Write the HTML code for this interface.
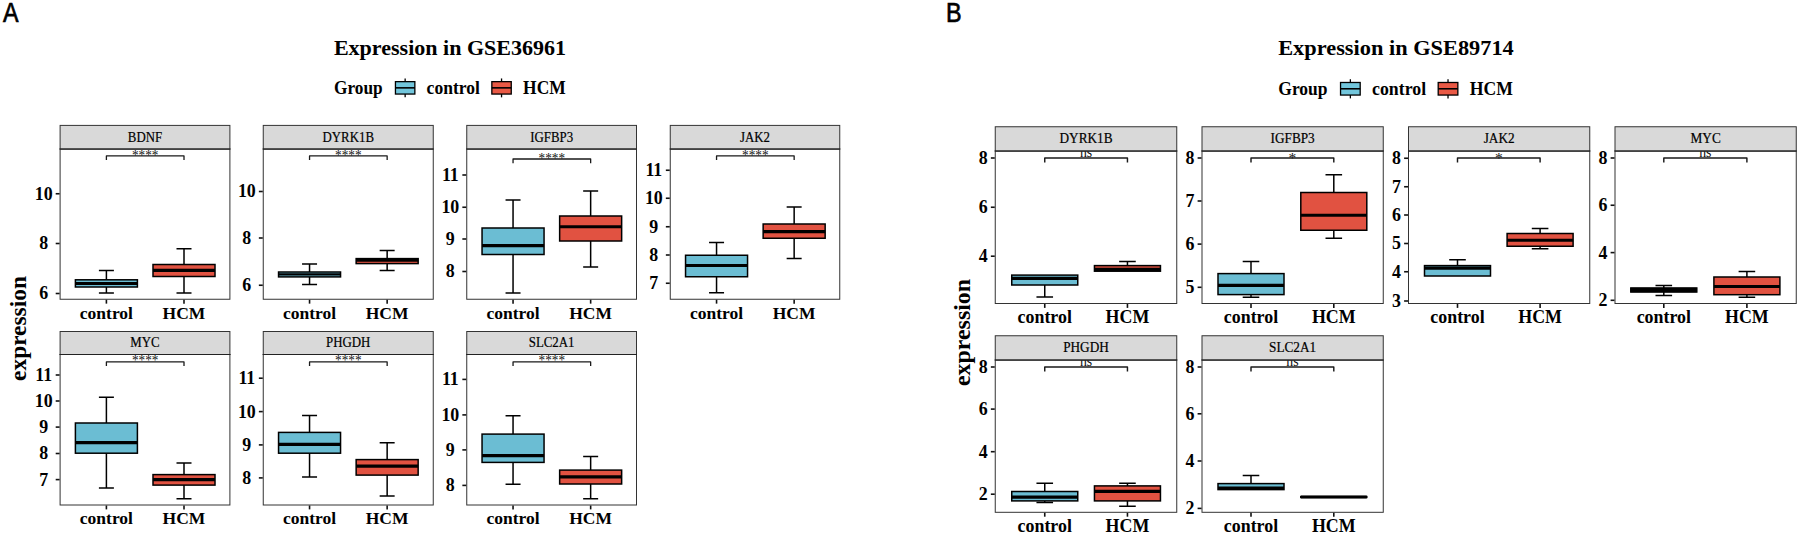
<!DOCTYPE html>
<html lang="en"><head><meta charset="utf-8"><title>Expression in GSE36961 and GSE89714</title>
<style>html,body{margin:0;padding:0;background:#fff}svg{display:block}</style></head><body>
<svg width="1800" height="537" viewBox="0 0 1800 537">
<rect width="1800" height="537" fill="#fff"/>
<text transform="translate(3.1 21.6) scale(0.825 1)" font-family='"Liberation Sans", sans-serif' font-size="28.2" fill="#000" stroke="#000" stroke-width="0.7">A</text>
<text transform="translate(946.1 21.6) scale(0.83 1)" font-family='"Liberation Sans", sans-serif' font-size="28.2" fill="#000" stroke="#000" stroke-width="0.7">B</text>
<text x="333.9" y="54.9" font-family='"Liberation Serif", serif' font-weight="bold" font-size="21.4" fill="#000" textLength="232.2" lengthAdjust="spacingAndGlyphs">Expression in GSE36961</text>
<text x="334" y="94" font-family='"Liberation Serif", serif' font-weight="bold" font-size="18.3" fill="#000" textLength="48.6" lengthAdjust="spacingAndGlyphs">Group</text>
<path d="M405.15 78.45V97.35" stroke="#000" stroke-width="1.3"/>
<rect x="395.45" y="81.65" width="19.4" height="12.4" fill="#72C6DC" stroke="#000" stroke-width="1.3"/>
<path d="M395.45 87.85H414.85" stroke="#000" stroke-width="1.6"/>
<text x="426.6" y="94" font-family='"Liberation Serif", serif' font-weight="bold" font-size="18.3" fill="#000" textLength="53.3" lengthAdjust="spacingAndGlyphs">control</text>
<path d="M501.55 78.45V97.35" stroke="#000" stroke-width="1.3"/>
<rect x="491.85" y="81.65" width="19.4" height="12.4" fill="#E95945" stroke="#000" stroke-width="1.3"/>
<path d="M491.85 87.85H511.25" stroke="#000" stroke-width="1.6"/>
<text x="523.1" y="94" font-family='"Liberation Serif", serif' font-weight="bold" font-size="18.3" fill="#000" textLength="42.6" lengthAdjust="spacingAndGlyphs">HCM</text>
<text x="1278.2" y="54.9" font-family='"Liberation Serif", serif' font-weight="bold" font-size="21.68" fill="#000" textLength="235.6" lengthAdjust="spacingAndGlyphs">Expression in GSE89714</text>
<text x="1278.3" y="95" font-family='"Liberation Serif", serif' font-weight="bold" font-size="18.54" fill="#000" textLength="49.23" lengthAdjust="spacingAndGlyphs">Group</text>
<path d="M1350.37 79.25V98.39" stroke="#000" stroke-width="1.3"/>
<rect x="1340.54" y="82.49" width="19.65" height="12.56" fill="#72C6DC" stroke="#000" stroke-width="1.3"/>
<path d="M1340.54 88.77H1360.2" stroke="#000" stroke-width="1.6"/>
<text x="1372.1" y="95" font-family='"Liberation Serif", serif' font-weight="bold" font-size="18.54" fill="#000" textLength="53.99" lengthAdjust="spacingAndGlyphs">control</text>
<path d="M1448.02 79.25V98.39" stroke="#000" stroke-width="1.3"/>
<rect x="1438.2" y="82.49" width="19.65" height="12.56" fill="#E95945" stroke="#000" stroke-width="1.3"/>
<path d="M1438.2 88.77H1457.85" stroke="#000" stroke-width="1.6"/>
<text x="1469.85" y="95" font-family='"Liberation Serif", serif' font-weight="bold" font-size="18.54" fill="#000" textLength="43.15" lengthAdjust="spacingAndGlyphs">HCM</text>
<text transform="translate(26.4 328.5) rotate(-90)" text-anchor="middle" font-family='"Liberation Serif", serif' font-weight="bold" font-size="23.4" fill="#000">expression</text>
<text transform="translate(970.2 332.5) rotate(-90)" text-anchor="middle" font-family='"Liberation Serif", serif' font-weight="bold" font-size="23.9" fill="#000">expression</text>
<rect x="60.1" y="149" width="169.8" height="150.25" fill="#fff" stroke="#333333" stroke-width="1"/>
<path d="M106.4 279.8V270.4M98.9 270.4H113.9" stroke="#000" stroke-width="1.5" fill="none"/>
<path d="M106.4 287V292.9M98.9 292.9H113.9" stroke="#000" stroke-width="1.5" fill="none"/>
<rect x="75.4" y="279.8" width="62" height="7.2" fill="#6BBDD3" stroke="#000" stroke-width="1.5"/>
<path d="M75.4 283.5H137.4" stroke="#000" stroke-width="3.2"/>
<path d="M184 264.5V248.8M176.5 248.8H191.5" stroke="#000" stroke-width="1.5" fill="none"/>
<path d="M184 276.5V292.9M176.5 292.9H191.5" stroke="#000" stroke-width="1.5" fill="none"/>
<rect x="153" y="264.5" width="62" height="12" fill="#E15241" stroke="#000" stroke-width="1.5"/>
<path d="M153 270.4H215" stroke="#000" stroke-width="3.2"/>
<path d="M106.4 160.1V155.9H184V160.1" stroke="#1a1a1a" stroke-width="1.3" stroke-linejoin="round" fill="none"/>
<text x="145.2" y="160.3" text-anchor="middle" font-family='"Liberation Serif", serif' font-size="15" fill="#111" textLength="26.5" lengthAdjust="spacingAndGlyphs">****</text>
<rect x="60.1" y="125.4" width="169.8" height="23.6" fill="#D9D9D9" stroke="#333333" stroke-width="1"/>
<path d="M59.6 149H230.4" stroke="#222" stroke-width="1.2"/>
<text transform="translate(145 141.55) scale(0.95 1)" text-anchor="middle" font-family='"Liberation Serif", serif' font-size="13.55" fill="#000" stroke="#000" stroke-width="0.2">BDNF</text>
<path d="M55.7 193.75H59.6" stroke="#111" stroke-width="1.6"/>
<text x="43.7" y="199.65" text-anchor="middle" font-family='"Liberation Serif", serif' font-weight="bold" font-size="17.9" fill="#000">10</text>
<path d="M55.7 243.5H59.6" stroke="#111" stroke-width="1.6"/>
<text x="43.7" y="249.4" text-anchor="middle" font-family='"Liberation Serif", serif' font-weight="bold" font-size="17.9" fill="#000">8</text>
<path d="M55.7 293.5H59.6" stroke="#111" stroke-width="1.6"/>
<text x="43.7" y="299.4" text-anchor="middle" font-family='"Liberation Serif", serif' font-weight="bold" font-size="17.9" fill="#000">6</text>
<path d="M106.4 299.75V303.65" stroke="#111" stroke-width="1.6"/>
<text x="106.4" y="318.55" text-anchor="middle" font-family='"Liberation Serif", serif' font-weight="bold" font-size="17.5" fill="#000">control</text>
<path d="M184 299.75V303.65" stroke="#111" stroke-width="1.6"/>
<text x="184" y="318.55" text-anchor="middle" font-family='"Liberation Serif", serif' font-weight="bold" font-size="17.5" fill="#000">HCM</text>
<rect x="263.25" y="149" width="170" height="150.25" fill="#fff" stroke="#333333" stroke-width="1"/>
<path d="M309.55 272V264M302.05 264H317.05" stroke="#000" stroke-width="1.5" fill="none"/>
<path d="M309.55 276.9V284.5M302.05 284.5H317.05" stroke="#000" stroke-width="1.5" fill="none"/>
<rect x="278.55" y="272" width="62" height="4.9" fill="#6BBDD3" stroke="#000" stroke-width="1.5"/>
<path d="M278.55 274.45H340.55" stroke="#000" stroke-width="2.2"/>
<path d="M387.15 258.6V250.5M379.65 250.5H394.65" stroke="#000" stroke-width="1.5" fill="none"/>
<path d="M387.15 263.6V270.5M379.65 270.5H394.65" stroke="#000" stroke-width="1.5" fill="none"/>
<rect x="356.15" y="258.6" width="62" height="5" fill="#E15241" stroke="#000" stroke-width="1.5"/>
<path d="M356.15 260.2H418.15" stroke="#000" stroke-width="3.2"/>
<path d="M309.55 160.1V155.9H387.15V160.1" stroke="#1a1a1a" stroke-width="1.3" stroke-linejoin="round" fill="none"/>
<text x="348.35" y="160.3" text-anchor="middle" font-family='"Liberation Serif", serif' font-size="15" fill="#111" textLength="26.5" lengthAdjust="spacingAndGlyphs">****</text>
<rect x="263.25" y="125.4" width="170" height="23.6" fill="#D9D9D9" stroke="#333333" stroke-width="1"/>
<path d="M262.75 149H433.75" stroke="#222" stroke-width="1.2"/>
<text transform="translate(348.25 141.55) scale(0.95 1)" text-anchor="middle" font-family='"Liberation Serif", serif' font-size="13.55" fill="#000" stroke="#000" stroke-width="0.2">DYRK1B</text>
<path d="M258.85 191.5H262.75" stroke="#111" stroke-width="1.6"/>
<text x="246.85" y="197.4" text-anchor="middle" font-family='"Liberation Serif", serif' font-weight="bold" font-size="17.9" fill="#000">10</text>
<path d="M258.85 238H262.75" stroke="#111" stroke-width="1.6"/>
<text x="246.85" y="243.9" text-anchor="middle" font-family='"Liberation Serif", serif' font-weight="bold" font-size="17.9" fill="#000">8</text>
<path d="M258.85 285.25H262.75" stroke="#111" stroke-width="1.6"/>
<text x="246.85" y="291.15" text-anchor="middle" font-family='"Liberation Serif", serif' font-weight="bold" font-size="17.9" fill="#000">6</text>
<path d="M309.55 299.75V303.65" stroke="#111" stroke-width="1.6"/>
<text x="309.55" y="318.55" text-anchor="middle" font-family='"Liberation Serif", serif' font-weight="bold" font-size="17.5" fill="#000">control</text>
<path d="M387.15 299.75V303.65" stroke="#111" stroke-width="1.6"/>
<text x="387.15" y="318.55" text-anchor="middle" font-family='"Liberation Serif", serif' font-weight="bold" font-size="17.5" fill="#000">HCM</text>
<rect x="466.75" y="149" width="169.75" height="150.25" fill="#fff" stroke="#333333" stroke-width="1"/>
<path d="M513.05 228V200M505.55 200H520.55" stroke="#000" stroke-width="1.5" fill="none"/>
<path d="M513.05 254.5V292.9M505.55 292.9H520.55" stroke="#000" stroke-width="1.5" fill="none"/>
<rect x="482.05" y="228" width="62" height="26.5" fill="#6BBDD3" stroke="#000" stroke-width="1.5"/>
<path d="M482.05 245.7H544.05" stroke="#000" stroke-width="3.2"/>
<path d="M590.65 216V191M583.15 191H598.15" stroke="#000" stroke-width="1.5" fill="none"/>
<path d="M590.65 241V267M583.15 267H598.15" stroke="#000" stroke-width="1.5" fill="none"/>
<rect x="559.65" y="216" width="62" height="25" fill="#E15241" stroke="#000" stroke-width="1.5"/>
<path d="M559.65 226.75H621.65" stroke="#000" stroke-width="3.2"/>
<path d="M513.05 163.2V159H590.65V163.2" stroke="#1a1a1a" stroke-width="1.3" stroke-linejoin="round" fill="none"/>
<text x="551.85" y="163.4" text-anchor="middle" font-family='"Liberation Serif", serif' font-size="15" fill="#111" textLength="26.5" lengthAdjust="spacingAndGlyphs">****</text>
<rect x="466.75" y="125.4" width="169.75" height="23.6" fill="#D9D9D9" stroke="#333333" stroke-width="1"/>
<path d="M466.25 149H637" stroke="#222" stroke-width="1.2"/>
<text transform="translate(551.62 141.55) scale(0.95 1)" text-anchor="middle" font-family='"Liberation Serif", serif' font-size="13.55" fill="#000" stroke="#000" stroke-width="0.2">IGFBP3</text>
<path d="M462.35 175H466.25" stroke="#111" stroke-width="1.6"/>
<text x="450.35" y="180.9" text-anchor="middle" font-family='"Liberation Serif", serif' font-weight="bold" font-size="17.9" fill="#000">11</text>
<path d="M462.35 207.25H466.25" stroke="#111" stroke-width="1.6"/>
<text x="450.35" y="213.15" text-anchor="middle" font-family='"Liberation Serif", serif' font-weight="bold" font-size="17.9" fill="#000">10</text>
<path d="M462.35 239H466.25" stroke="#111" stroke-width="1.6"/>
<text x="450.35" y="244.9" text-anchor="middle" font-family='"Liberation Serif", serif' font-weight="bold" font-size="17.9" fill="#000">9</text>
<path d="M462.35 271.5H466.25" stroke="#111" stroke-width="1.6"/>
<text x="450.35" y="277.4" text-anchor="middle" font-family='"Liberation Serif", serif' font-weight="bold" font-size="17.9" fill="#000">8</text>
<path d="M513.05 299.75V303.65" stroke="#111" stroke-width="1.6"/>
<text x="513.05" y="318.55" text-anchor="middle" font-family='"Liberation Serif", serif' font-weight="bold" font-size="17.5" fill="#000">control</text>
<path d="M590.65 299.75V303.65" stroke="#111" stroke-width="1.6"/>
<text x="590.65" y="318.55" text-anchor="middle" font-family='"Liberation Serif", serif' font-weight="bold" font-size="17.5" fill="#000">HCM</text>
<rect x="670.25" y="149" width="169.5" height="150.25" fill="#fff" stroke="#333333" stroke-width="1"/>
<path d="M716.55 255.25V242.5M709.05 242.5H724.05" stroke="#000" stroke-width="1.5" fill="none"/>
<path d="M716.55 276.75V292.75M709.05 292.75H724.05" stroke="#000" stroke-width="1.5" fill="none"/>
<rect x="685.55" y="255.25" width="62" height="21.5" fill="#6BBDD3" stroke="#000" stroke-width="1.5"/>
<path d="M685.55 265.5H747.55" stroke="#000" stroke-width="3.2"/>
<path d="M794.15 224V207M786.65 207H801.65" stroke="#000" stroke-width="1.5" fill="none"/>
<path d="M794.15 238.25V258.5M786.65 258.5H801.65" stroke="#000" stroke-width="1.5" fill="none"/>
<rect x="763.15" y="224" width="62" height="14.25" fill="#E15241" stroke="#000" stroke-width="1.5"/>
<path d="M763.15 231.7H825.15" stroke="#000" stroke-width="3.2"/>
<path d="M716.55 160.1V155.9H794.15V160.1" stroke="#1a1a1a" stroke-width="1.3" stroke-linejoin="round" fill="none"/>
<text x="755.35" y="160.3" text-anchor="middle" font-family='"Liberation Serif", serif' font-size="15" fill="#111" textLength="26.5" lengthAdjust="spacingAndGlyphs">****</text>
<rect x="670.25" y="125.4" width="169.5" height="23.6" fill="#D9D9D9" stroke="#333333" stroke-width="1"/>
<path d="M669.75 149H840.25" stroke="#222" stroke-width="1.2"/>
<text transform="translate(755 141.55) scale(0.95 1)" text-anchor="middle" font-family='"Liberation Serif", serif' font-size="13.55" fill="#000" stroke="#000" stroke-width="0.2">JAK2</text>
<path d="M665.85 170.25H669.75" stroke="#111" stroke-width="1.6"/>
<text x="653.85" y="176.15" text-anchor="middle" font-family='"Liberation Serif", serif' font-weight="bold" font-size="17.9" fill="#000">11</text>
<path d="M665.85 198.25H669.75" stroke="#111" stroke-width="1.6"/>
<text x="653.85" y="204.15" text-anchor="middle" font-family='"Liberation Serif", serif' font-weight="bold" font-size="17.9" fill="#000">10</text>
<path d="M665.85 226.75H669.75" stroke="#111" stroke-width="1.6"/>
<text x="653.85" y="232.65" text-anchor="middle" font-family='"Liberation Serif", serif' font-weight="bold" font-size="17.9" fill="#000">9</text>
<path d="M665.85 255H669.75" stroke="#111" stroke-width="1.6"/>
<text x="653.85" y="260.9" text-anchor="middle" font-family='"Liberation Serif", serif' font-weight="bold" font-size="17.9" fill="#000">8</text>
<path d="M665.85 283.25H669.75" stroke="#111" stroke-width="1.6"/>
<text x="653.85" y="289.15" text-anchor="middle" font-family='"Liberation Serif", serif' font-weight="bold" font-size="17.9" fill="#000">7</text>
<path d="M716.55 299.75V303.65" stroke="#111" stroke-width="1.6"/>
<text x="716.55" y="318.55" text-anchor="middle" font-family='"Liberation Serif", serif' font-weight="bold" font-size="17.5" fill="#000">control</text>
<path d="M794.15 299.75V303.65" stroke="#111" stroke-width="1.6"/>
<text x="794.15" y="318.55" text-anchor="middle" font-family='"Liberation Serif", serif' font-weight="bold" font-size="17.5" fill="#000">HCM</text>
<rect x="60.1" y="354.5" width="169.8" height="150.5" fill="#fff" stroke="#333333" stroke-width="1"/>
<path d="M106.4 423V397.2M98.9 397.2H113.9" stroke="#000" stroke-width="1.5" fill="none"/>
<path d="M106.4 453.2V487.9M98.9 487.9H113.9" stroke="#000" stroke-width="1.5" fill="none"/>
<rect x="75.4" y="423" width="62" height="30.2" fill="#6BBDD3" stroke="#000" stroke-width="1.5"/>
<path d="M75.4 442.7H137.4" stroke="#000" stroke-width="3.2"/>
<path d="M184 474.6V462.9M176.5 462.9H191.5" stroke="#000" stroke-width="1.5" fill="none"/>
<path d="M184 485.1V498.7M176.5 498.7H191.5" stroke="#000" stroke-width="1.5" fill="none"/>
<rect x="153" y="474.6" width="62" height="10.5" fill="#E15241" stroke="#000" stroke-width="1.5"/>
<path d="M153 479.6H215" stroke="#000" stroke-width="3.2"/>
<path d="M106.4 366.1V361.9H184V366.1" stroke="#1a1a1a" stroke-width="1.3" stroke-linejoin="round" fill="none"/>
<text x="145.2" y="365.3" text-anchor="middle" font-family='"Liberation Serif", serif' font-size="15" fill="#111" textLength="26.5" lengthAdjust="spacingAndGlyphs">****</text>
<rect x="60.1" y="331.5" width="169.8" height="23" fill="#D9D9D9" stroke="#333333" stroke-width="1"/>
<path d="M59.6 354.5H230.4" stroke="#222" stroke-width="1.2"/>
<text transform="translate(145 347.35) scale(0.95 1)" text-anchor="middle" font-family='"Liberation Serif", serif' font-size="13.55" fill="#000" stroke="#000" stroke-width="0.2">MYC</text>
<path d="M55.7 375H59.6" stroke="#111" stroke-width="1.6"/>
<text x="43.7" y="380.9" text-anchor="middle" font-family='"Liberation Serif", serif' font-weight="bold" font-size="17.9" fill="#000">11</text>
<path d="M55.7 401H59.6" stroke="#111" stroke-width="1.6"/>
<text x="43.7" y="406.9" text-anchor="middle" font-family='"Liberation Serif", serif' font-weight="bold" font-size="17.9" fill="#000">10</text>
<path d="M55.7 427.1H59.6" stroke="#111" stroke-width="1.6"/>
<text x="43.7" y="433" text-anchor="middle" font-family='"Liberation Serif", serif' font-weight="bold" font-size="17.9" fill="#000">9</text>
<path d="M55.7 453.5H59.6" stroke="#111" stroke-width="1.6"/>
<text x="43.7" y="459.4" text-anchor="middle" font-family='"Liberation Serif", serif' font-weight="bold" font-size="17.9" fill="#000">8</text>
<path d="M55.7 479.6H59.6" stroke="#111" stroke-width="1.6"/>
<text x="43.7" y="485.5" text-anchor="middle" font-family='"Liberation Serif", serif' font-weight="bold" font-size="17.9" fill="#000">7</text>
<path d="M106.4 505.5V509.4" stroke="#111" stroke-width="1.6"/>
<text x="106.4" y="524.3" text-anchor="middle" font-family='"Liberation Serif", serif' font-weight="bold" font-size="17.5" fill="#000">control</text>
<path d="M184 505.5V509.4" stroke="#111" stroke-width="1.6"/>
<text x="184" y="524.3" text-anchor="middle" font-family='"Liberation Serif", serif' font-weight="bold" font-size="17.5" fill="#000">HCM</text>
<rect x="263.25" y="354.5" width="170" height="150.5" fill="#fff" stroke="#333333" stroke-width="1"/>
<path d="M309.55 432.4V415.5M302.05 415.5H317.05" stroke="#000" stroke-width="1.5" fill="none"/>
<path d="M309.55 453.2V477.1M302.05 477.1H317.05" stroke="#000" stroke-width="1.5" fill="none"/>
<rect x="278.55" y="432.4" width="62" height="20.8" fill="#6BBDD3" stroke="#000" stroke-width="1.5"/>
<path d="M278.55 444.3H340.55" stroke="#000" stroke-width="3.2"/>
<path d="M387.15 459.6V442.7M379.65 442.7H394.65" stroke="#000" stroke-width="1.5" fill="none"/>
<path d="M387.15 475.1V495.9M379.65 495.9H394.65" stroke="#000" stroke-width="1.5" fill="none"/>
<rect x="356.15" y="459.6" width="62" height="15.5" fill="#E15241" stroke="#000" stroke-width="1.5"/>
<path d="M356.15 466.2H418.15" stroke="#000" stroke-width="3.2"/>
<path d="M309.55 366.1V361.9H387.15V366.1" stroke="#1a1a1a" stroke-width="1.3" stroke-linejoin="round" fill="none"/>
<text x="348.35" y="365.3" text-anchor="middle" font-family='"Liberation Serif", serif' font-size="15" fill="#111" textLength="26.5" lengthAdjust="spacingAndGlyphs">****</text>
<rect x="263.25" y="331.5" width="170" height="23" fill="#D9D9D9" stroke="#333333" stroke-width="1"/>
<path d="M262.75 354.5H433.75" stroke="#222" stroke-width="1.2"/>
<text transform="translate(348.25 347.35) scale(0.95 1)" text-anchor="middle" font-family='"Liberation Serif", serif' font-size="13.55" fill="#000" stroke="#000" stroke-width="0.2">PHGDH</text>
<path d="M258.85 378.2H262.75" stroke="#111" stroke-width="1.6"/>
<text x="246.85" y="384.1" text-anchor="middle" font-family='"Liberation Serif", serif' font-weight="bold" font-size="17.9" fill="#000">11</text>
<path d="M258.85 411.6H262.75" stroke="#111" stroke-width="1.6"/>
<text x="246.85" y="417.5" text-anchor="middle" font-family='"Liberation Serif", serif' font-weight="bold" font-size="17.9" fill="#000">10</text>
<path d="M258.85 444.9H262.75" stroke="#111" stroke-width="1.6"/>
<text x="246.85" y="450.8" text-anchor="middle" font-family='"Liberation Serif", serif' font-weight="bold" font-size="17.9" fill="#000">9</text>
<path d="M258.85 477.9H262.75" stroke="#111" stroke-width="1.6"/>
<text x="246.85" y="483.8" text-anchor="middle" font-family='"Liberation Serif", serif' font-weight="bold" font-size="17.9" fill="#000">8</text>
<path d="M309.55 505.5V509.4" stroke="#111" stroke-width="1.6"/>
<text x="309.55" y="524.3" text-anchor="middle" font-family='"Liberation Serif", serif' font-weight="bold" font-size="17.5" fill="#000">control</text>
<path d="M387.15 505.5V509.4" stroke="#111" stroke-width="1.6"/>
<text x="387.15" y="524.3" text-anchor="middle" font-family='"Liberation Serif", serif' font-weight="bold" font-size="17.5" fill="#000">HCM</text>
<rect x="466.75" y="354.5" width="169.75" height="150.5" fill="#fff" stroke="#333333" stroke-width="1"/>
<path d="M513.05 434.1V415.7M505.55 415.7H520.55" stroke="#000" stroke-width="1.5" fill="none"/>
<path d="M513.05 462.4V484.3M505.55 484.3H520.55" stroke="#000" stroke-width="1.5" fill="none"/>
<rect x="482.05" y="434.1" width="62" height="28.3" fill="#6BBDD3" stroke="#000" stroke-width="1.5"/>
<path d="M482.05 455.7H544.05" stroke="#000" stroke-width="3.2"/>
<path d="M590.65 470.1V456.5M583.15 456.5H598.15" stroke="#000" stroke-width="1.5" fill="none"/>
<path d="M590.65 484V498.7M583.15 498.7H598.15" stroke="#000" stroke-width="1.5" fill="none"/>
<rect x="559.65" y="470.1" width="62" height="13.9" fill="#E15241" stroke="#000" stroke-width="1.5"/>
<path d="M559.65 476.8H621.65" stroke="#000" stroke-width="3.2"/>
<path d="M513.05 366.1V361.9H590.65V366.1" stroke="#1a1a1a" stroke-width="1.3" stroke-linejoin="round" fill="none"/>
<text x="551.85" y="365.3" text-anchor="middle" font-family='"Liberation Serif", serif' font-size="15" fill="#111" textLength="26.5" lengthAdjust="spacingAndGlyphs">****</text>
<rect x="466.75" y="331.5" width="169.75" height="23" fill="#D9D9D9" stroke="#333333" stroke-width="1"/>
<path d="M466.25 354.5H637" stroke="#222" stroke-width="1.2"/>
<text transform="translate(551.62 347.35) scale(0.95 1)" text-anchor="middle" font-family='"Liberation Serif", serif' font-size="13.55" fill="#000" stroke="#000" stroke-width="0.2">SLC2A1</text>
<path d="M462.35 379.4H466.25" stroke="#111" stroke-width="1.6"/>
<text x="450.35" y="385.3" text-anchor="middle" font-family='"Liberation Serif", serif' font-weight="bold" font-size="17.9" fill="#000">11</text>
<path d="M462.35 414.9H466.25" stroke="#111" stroke-width="1.6"/>
<text x="450.35" y="420.8" text-anchor="middle" font-family='"Liberation Serif", serif' font-weight="bold" font-size="17.9" fill="#000">10</text>
<path d="M462.35 449.9H466.25" stroke="#111" stroke-width="1.6"/>
<text x="450.35" y="455.8" text-anchor="middle" font-family='"Liberation Serif", serif' font-weight="bold" font-size="17.9" fill="#000">9</text>
<path d="M462.35 485.4H466.25" stroke="#111" stroke-width="1.6"/>
<text x="450.35" y="491.3" text-anchor="middle" font-family='"Liberation Serif", serif' font-weight="bold" font-size="17.9" fill="#000">8</text>
<path d="M513.05 505.5V509.4" stroke="#111" stroke-width="1.6"/>
<text x="513.05" y="524.3" text-anchor="middle" font-family='"Liberation Serif", serif' font-weight="bold" font-size="17.5" fill="#000">control</text>
<path d="M590.65 505.5V509.4" stroke="#111" stroke-width="1.6"/>
<text x="590.65" y="524.3" text-anchor="middle" font-family='"Liberation Serif", serif' font-weight="bold" font-size="17.5" fill="#000">HCM</text>
<rect x="995.25" y="151" width="181.5" height="152.5" fill="#fff" stroke="#333333" stroke-width="1"/>
<path d="M1044.75 285V297M1036.45 297H1053.05" stroke="#000" stroke-width="1.5" fill="none"/>
<rect x="1011.75" y="275.1" width="66" height="9.9" fill="#6BBDD3" stroke="#000" stroke-width="1.5"/>
<path d="M1011.75 278.4H1077.75" stroke="#000" stroke-width="3.2"/>
<path d="M1127.45 265.6V261.6M1119.15 261.6H1135.75" stroke="#000" stroke-width="1.5" fill="none"/>
<rect x="1094.45" y="265.6" width="66" height="5.6" fill="#E15241" stroke="#000" stroke-width="1.5"/>
<path d="M1094.45 269.3H1160.45" stroke="#000" stroke-width="3.2"/>
<path d="M1044.75 162.6V158H1127.45V162.6" stroke="#1a1a1a" stroke-width="1.45" stroke-linejoin="round" fill="none"/>
<text x="1086.1" y="156.9" text-anchor="middle" font-family='"Liberation Serif", serif' font-size="13.8" fill="#111">ns</text>
<rect x="995.25" y="126.75" width="181.5" height="24.25" fill="#D9D9D9" stroke="#333333" stroke-width="1"/>
<path d="M994.75 151H1177.25" stroke="#222" stroke-width="1.2"/>
<text transform="translate(1086 143.22) scale(0.95 1)" text-anchor="middle" font-family='"Liberation Serif", serif' font-size="13.97" fill="#000" stroke="#000" stroke-width="0.2">DYRK1B</text>
<path d="M990.85 158H994.75" stroke="#111" stroke-width="1.6"/>
<text x="983.35" y="163.9" text-anchor="middle" font-family='"Liberation Serif", serif' font-weight="bold" font-size="17.9" fill="#000">8</text>
<path d="M990.85 207.25H994.75" stroke="#111" stroke-width="1.6"/>
<text x="983.35" y="213.15" text-anchor="middle" font-family='"Liberation Serif", serif' font-weight="bold" font-size="17.9" fill="#000">6</text>
<path d="M990.85 256.2H994.75" stroke="#111" stroke-width="1.6"/>
<text x="983.35" y="262.1" text-anchor="middle" font-family='"Liberation Serif", serif' font-weight="bold" font-size="17.9" fill="#000">4</text>
<path d="M1044.75 304V307.9" stroke="#111" stroke-width="1.6"/>
<text x="1044.75" y="322.8" text-anchor="middle" font-family='"Liberation Serif", serif' font-weight="bold" font-size="17.9" fill="#000">control</text>
<path d="M1127.45 304V307.9" stroke="#111" stroke-width="1.6"/>
<text x="1127.45" y="322.8" text-anchor="middle" font-family='"Liberation Serif", serif' font-weight="bold" font-size="17.9" fill="#000">HCM</text>
<rect x="1202" y="151" width="181.25" height="152.5" fill="#fff" stroke="#333333" stroke-width="1"/>
<path d="M1251 273.6V261.6M1242.7 261.6H1259.3" stroke="#000" stroke-width="1.5" fill="none"/>
<path d="M1251 294.6V297.2M1242.7 297.2H1259.3" stroke="#000" stroke-width="1.5" fill="none"/>
<rect x="1218" y="273.6" width="66" height="21" fill="#6BBDD3" stroke="#000" stroke-width="1.5"/>
<path d="M1218 285.4H1284" stroke="#000" stroke-width="3.2"/>
<path d="M1333.8 192.5V174.75M1325.5 174.75H1342.1" stroke="#000" stroke-width="1.5" fill="none"/>
<path d="M1333.8 230.25V238.25M1325.5 238.25H1342.1" stroke="#000" stroke-width="1.5" fill="none"/>
<rect x="1300.8" y="192.5" width="66" height="37.75" fill="#E15241" stroke="#000" stroke-width="1.5"/>
<path d="M1300.8 215.25H1366.8" stroke="#000" stroke-width="3.2"/>
<path d="M1251 162.6V158H1333.8V162.6" stroke="#1a1a1a" stroke-width="1.45" stroke-linejoin="round" fill="none"/>
<text x="1292.4" y="163.3" text-anchor="middle" font-family='"Liberation Serif", serif' font-size="15.5" fill="#111">*</text>
<rect x="1202" y="126.75" width="181.25" height="24.25" fill="#D9D9D9" stroke="#333333" stroke-width="1"/>
<path d="M1201.5 151H1383.75" stroke="#222" stroke-width="1.2"/>
<text transform="translate(1292.62 143.22) scale(0.95 1)" text-anchor="middle" font-family='"Liberation Serif", serif' font-size="13.97" fill="#000" stroke="#000" stroke-width="0.2">IGFBP3</text>
<path d="M1197.6 158H1201.5" stroke="#111" stroke-width="1.6"/>
<text x="1190.1" y="163.9" text-anchor="middle" font-family='"Liberation Serif", serif' font-weight="bold" font-size="17.9" fill="#000">8</text>
<path d="M1197.6 201H1201.5" stroke="#111" stroke-width="1.6"/>
<text x="1190.1" y="206.9" text-anchor="middle" font-family='"Liberation Serif", serif' font-weight="bold" font-size="17.9" fill="#000">7</text>
<path d="M1197.6 244.1H1201.5" stroke="#111" stroke-width="1.6"/>
<text x="1190.1" y="250" text-anchor="middle" font-family='"Liberation Serif", serif' font-weight="bold" font-size="17.9" fill="#000">6</text>
<path d="M1197.6 287.3H1201.5" stroke="#111" stroke-width="1.6"/>
<text x="1190.1" y="293.2" text-anchor="middle" font-family='"Liberation Serif", serif' font-weight="bold" font-size="17.9" fill="#000">5</text>
<path d="M1251 304V307.9" stroke="#111" stroke-width="1.6"/>
<text x="1251" y="322.8" text-anchor="middle" font-family='"Liberation Serif", serif' font-weight="bold" font-size="17.9" fill="#000">control</text>
<path d="M1333.8 304V307.9" stroke="#111" stroke-width="1.6"/>
<text x="1333.8" y="322.8" text-anchor="middle" font-family='"Liberation Serif", serif' font-weight="bold" font-size="17.9" fill="#000">HCM</text>
<rect x="1408.5" y="151" width="181.25" height="152.5" fill="#fff" stroke="#333333" stroke-width="1"/>
<path d="M1457.5 265.6V259.75M1449.2 259.75H1465.8" stroke="#000" stroke-width="1.5" fill="none"/>
<rect x="1424.5" y="265.6" width="66" height="10.4" fill="#6BBDD3" stroke="#000" stroke-width="1.5"/>
<path d="M1424.5 268.2H1490.5" stroke="#000" stroke-width="3.2"/>
<path d="M1540.1 233.5V228.5M1531.8 228.5H1548.4" stroke="#000" stroke-width="1.5" fill="none"/>
<path d="M1540.1 246.25V248.75M1531.8 248.75H1548.4" stroke="#000" stroke-width="1.5" fill="none"/>
<rect x="1507.1" y="233.5" width="66" height="12.75" fill="#E15241" stroke="#000" stroke-width="1.5"/>
<path d="M1507.1 240.25H1573.1" stroke="#000" stroke-width="3.2"/>
<path d="M1457.5 162.6V158H1540.1V162.6" stroke="#1a1a1a" stroke-width="1.45" stroke-linejoin="round" fill="none"/>
<text x="1498.8" y="163.3" text-anchor="middle" font-family='"Liberation Serif", serif' font-size="15.5" fill="#111">*</text>
<rect x="1408.5" y="126.75" width="181.25" height="24.25" fill="#D9D9D9" stroke="#333333" stroke-width="1"/>
<path d="M1408 151H1590.25" stroke="#222" stroke-width="1.2"/>
<text transform="translate(1499.12 143.22) scale(0.95 1)" text-anchor="middle" font-family='"Liberation Serif", serif' font-size="13.97" fill="#000" stroke="#000" stroke-width="0.2">JAK2</text>
<path d="M1404.1 158.25H1408" stroke="#111" stroke-width="1.6"/>
<text x="1396.6" y="164.15" text-anchor="middle" font-family='"Liberation Serif", serif' font-weight="bold" font-size="17.9" fill="#000">8</text>
<path d="M1404.1 186.75H1408" stroke="#111" stroke-width="1.6"/>
<text x="1396.6" y="192.65" text-anchor="middle" font-family='"Liberation Serif", serif' font-weight="bold" font-size="17.9" fill="#000">7</text>
<path d="M1404.1 215H1408" stroke="#111" stroke-width="1.6"/>
<text x="1396.6" y="220.9" text-anchor="middle" font-family='"Liberation Serif", serif' font-weight="bold" font-size="17.9" fill="#000">6</text>
<path d="M1404.1 243.5H1408" stroke="#111" stroke-width="1.6"/>
<text x="1396.6" y="249.4" text-anchor="middle" font-family='"Liberation Serif", serif' font-weight="bold" font-size="17.9" fill="#000">5</text>
<path d="M1404.1 271.75H1408" stroke="#111" stroke-width="1.6"/>
<text x="1396.6" y="277.65" text-anchor="middle" font-family='"Liberation Serif", serif' font-weight="bold" font-size="17.9" fill="#000">4</text>
<path d="M1404.1 301H1408" stroke="#111" stroke-width="1.6"/>
<text x="1396.6" y="306.9" text-anchor="middle" font-family='"Liberation Serif", serif' font-weight="bold" font-size="17.9" fill="#000">3</text>
<path d="M1457.5 304V307.9" stroke="#111" stroke-width="1.6"/>
<text x="1457.5" y="322.8" text-anchor="middle" font-family='"Liberation Serif", serif' font-weight="bold" font-size="17.9" fill="#000">control</text>
<path d="M1540.1 304V307.9" stroke="#111" stroke-width="1.6"/>
<text x="1540.1" y="322.8" text-anchor="middle" font-family='"Liberation Serif", serif' font-weight="bold" font-size="17.9" fill="#000">HCM</text>
<rect x="1615" y="151" width="181.25" height="152.5" fill="#fff" stroke="#333333" stroke-width="1"/>
<path d="M1663.8 288V285.6M1655.5 285.6H1672.1" stroke="#000" stroke-width="1.5" fill="none"/>
<path d="M1663.8 292V295.5M1655.5 295.5H1672.1" stroke="#000" stroke-width="1.5" fill="none"/>
<rect x="1630.8" y="288" width="66" height="4" fill="#6BBDD3" stroke="#000" stroke-width="1.5"/>
<path d="M1630.8 290H1696.8" stroke="#000" stroke-width="4.6"/>
<path d="M1746.9 277V271.5M1738.6 271.5H1755.2" stroke="#000" stroke-width="1.5" fill="none"/>
<path d="M1746.9 294.7V297.25M1738.6 297.25H1755.2" stroke="#000" stroke-width="1.5" fill="none"/>
<rect x="1713.9" y="277" width="66" height="17.7" fill="#E15241" stroke="#000" stroke-width="1.5"/>
<path d="M1713.9 286.5H1779.9" stroke="#000" stroke-width="3.2"/>
<path d="M1663.8 162.6V158H1746.9V162.6" stroke="#1a1a1a" stroke-width="1.45" stroke-linejoin="round" fill="none"/>
<text x="1705.35" y="156.9" text-anchor="middle" font-family='"Liberation Serif", serif' font-size="13.8" fill="#111">ns</text>
<rect x="1615" y="126.75" width="181.25" height="24.25" fill="#D9D9D9" stroke="#333333" stroke-width="1"/>
<path d="M1614.5 151H1796.75" stroke="#222" stroke-width="1.2"/>
<text transform="translate(1705.62 143.22) scale(0.95 1)" text-anchor="middle" font-family='"Liberation Serif", serif' font-size="13.97" fill="#000" stroke="#000" stroke-width="0.2">MYC</text>
<path d="M1610.6 158H1614.5" stroke="#111" stroke-width="1.6"/>
<text x="1603.1" y="163.9" text-anchor="middle" font-family='"Liberation Serif", serif' font-weight="bold" font-size="17.9" fill="#000">8</text>
<path d="M1610.6 205.25H1614.5" stroke="#111" stroke-width="1.6"/>
<text x="1603.1" y="211.15" text-anchor="middle" font-family='"Liberation Serif", serif' font-weight="bold" font-size="17.9" fill="#000">6</text>
<path d="M1610.6 252.6H1614.5" stroke="#111" stroke-width="1.6"/>
<text x="1603.1" y="258.5" text-anchor="middle" font-family='"Liberation Serif", serif' font-weight="bold" font-size="17.9" fill="#000">4</text>
<path d="M1610.6 300.3H1614.5" stroke="#111" stroke-width="1.6"/>
<text x="1603.1" y="306.2" text-anchor="middle" font-family='"Liberation Serif", serif' font-weight="bold" font-size="17.9" fill="#000">2</text>
<path d="M1663.8 304V307.9" stroke="#111" stroke-width="1.6"/>
<text x="1663.8" y="322.8" text-anchor="middle" font-family='"Liberation Serif", serif' font-weight="bold" font-size="17.9" fill="#000">control</text>
<path d="M1746.9 304V307.9" stroke="#111" stroke-width="1.6"/>
<text x="1746.9" y="322.8" text-anchor="middle" font-family='"Liberation Serif", serif' font-weight="bold" font-size="17.9" fill="#000">HCM</text>
<rect x="995.25" y="360" width="181.5" height="152.3" fill="#fff" stroke="#333333" stroke-width="1"/>
<path d="M1044.75 491.5V483.2M1036.45 483.2H1053.05" stroke="#000" stroke-width="1.5" fill="none"/>
<path d="M1044.75 500.9V502.6M1036.45 502.6H1053.05" stroke="#000" stroke-width="1.5" fill="none"/>
<rect x="1011.75" y="491.5" width="66" height="9.4" fill="#6BBDD3" stroke="#000" stroke-width="1.5"/>
<path d="M1011.75 497.2H1077.75" stroke="#000" stroke-width="3.2"/>
<path d="M1127.45 485.9V483.2M1119.15 483.2H1135.75" stroke="#000" stroke-width="1.5" fill="none"/>
<path d="M1127.45 500.9V506.2M1119.15 506.2H1135.75" stroke="#000" stroke-width="1.5" fill="none"/>
<rect x="1094.45" y="485.9" width="66" height="15" fill="#E15241" stroke="#000" stroke-width="1.5"/>
<path d="M1094.45 491.3H1160.45" stroke="#000" stroke-width="3.2"/>
<path d="M1044.75 371.6V367H1127.45V371.6" stroke="#1a1a1a" stroke-width="1.45" stroke-linejoin="round" fill="none"/>
<text x="1086.1" y="365.9" text-anchor="middle" font-family='"Liberation Serif", serif' font-size="13.8" fill="#111">ns</text>
<rect x="995.25" y="335.75" width="181.5" height="24.25" fill="#D9D9D9" stroke="#333333" stroke-width="1"/>
<path d="M994.75 360H1177.25" stroke="#222" stroke-width="1.2"/>
<text transform="translate(1086 352.23) scale(0.95 1)" text-anchor="middle" font-family='"Liberation Serif", serif' font-size="13.97" fill="#000" stroke="#000" stroke-width="0.2">PHGDH</text>
<path d="M990.85 367H994.75" stroke="#111" stroke-width="1.6"/>
<text x="983.35" y="372.9" text-anchor="middle" font-family='"Liberation Serif", serif' font-weight="bold" font-size="17.9" fill="#000">8</text>
<path d="M990.85 409.1H994.75" stroke="#111" stroke-width="1.6"/>
<text x="983.35" y="415" text-anchor="middle" font-family='"Liberation Serif", serif' font-weight="bold" font-size="17.9" fill="#000">6</text>
<path d="M990.85 451.7H994.75" stroke="#111" stroke-width="1.6"/>
<text x="983.35" y="457.6" text-anchor="middle" font-family='"Liberation Serif", serif' font-weight="bold" font-size="17.9" fill="#000">4</text>
<path d="M990.85 494.2H994.75" stroke="#111" stroke-width="1.6"/>
<text x="983.35" y="500.1" text-anchor="middle" font-family='"Liberation Serif", serif' font-weight="bold" font-size="17.9" fill="#000">2</text>
<path d="M1044.75 512.8V516.7" stroke="#111" stroke-width="1.6"/>
<text x="1044.75" y="531.6" text-anchor="middle" font-family='"Liberation Serif", serif' font-weight="bold" font-size="17.9" fill="#000">control</text>
<path d="M1127.45 512.8V516.7" stroke="#111" stroke-width="1.6"/>
<text x="1127.45" y="531.6" text-anchor="middle" font-family='"Liberation Serif", serif' font-weight="bold" font-size="17.9" fill="#000">HCM</text>
<rect x="1202" y="360" width="181.25" height="152.3" fill="#fff" stroke="#333333" stroke-width="1"/>
<path d="M1251 483.6V475.4M1242.7 475.4H1259.3" stroke="#000" stroke-width="1.5" fill="none"/>
<rect x="1218" y="483.6" width="66" height="6" fill="#6BBDD3" stroke="#000" stroke-width="1.5"/>
<path d="M1218 488.2H1284" stroke="#000" stroke-width="3.2"/>
<rect x="1300.8" y="496.6" width="66" height="0.8" fill="#E15241" stroke="#000" stroke-width="1.5"/>
<path d="M1300.8 497H1366.8" stroke="#000" stroke-width="3.2"/>
<path d="M1251 371.6V367H1333.8V371.6" stroke="#1a1a1a" stroke-width="1.45" stroke-linejoin="round" fill="none"/>
<text x="1292.4" y="365.9" text-anchor="middle" font-family='"Liberation Serif", serif' font-size="13.8" fill="#111">ns</text>
<rect x="1202" y="335.75" width="181.25" height="24.25" fill="#D9D9D9" stroke="#333333" stroke-width="1"/>
<path d="M1201.5 360H1383.75" stroke="#222" stroke-width="1.2"/>
<text transform="translate(1292.62 352.23) scale(0.95 1)" text-anchor="middle" font-family='"Liberation Serif", serif' font-size="13.97" fill="#000" stroke="#000" stroke-width="0.2">SLC2A1</text>
<path d="M1197.6 367H1201.5" stroke="#111" stroke-width="1.6"/>
<text x="1190.1" y="372.9" text-anchor="middle" font-family='"Liberation Serif", serif' font-weight="bold" font-size="17.9" fill="#000">8</text>
<path d="M1197.6 413.8H1201.5" stroke="#111" stroke-width="1.6"/>
<text x="1190.1" y="419.7" text-anchor="middle" font-family='"Liberation Serif", serif' font-weight="bold" font-size="17.9" fill="#000">6</text>
<path d="M1197.6 461H1201.5" stroke="#111" stroke-width="1.6"/>
<text x="1190.1" y="466.9" text-anchor="middle" font-family='"Liberation Serif", serif' font-weight="bold" font-size="17.9" fill="#000">4</text>
<path d="M1197.6 508.4H1201.5" stroke="#111" stroke-width="1.6"/>
<text x="1190.1" y="514.3" text-anchor="middle" font-family='"Liberation Serif", serif' font-weight="bold" font-size="17.9" fill="#000">2</text>
<path d="M1251 512.8V516.7" stroke="#111" stroke-width="1.6"/>
<text x="1251" y="531.6" text-anchor="middle" font-family='"Liberation Serif", serif' font-weight="bold" font-size="17.9" fill="#000">control</text>
<path d="M1333.8 512.8V516.7" stroke="#111" stroke-width="1.6"/>
<text x="1333.8" y="531.6" text-anchor="middle" font-family='"Liberation Serif", serif' font-weight="bold" font-size="17.9" fill="#000">HCM</text>
</svg></body></html>
